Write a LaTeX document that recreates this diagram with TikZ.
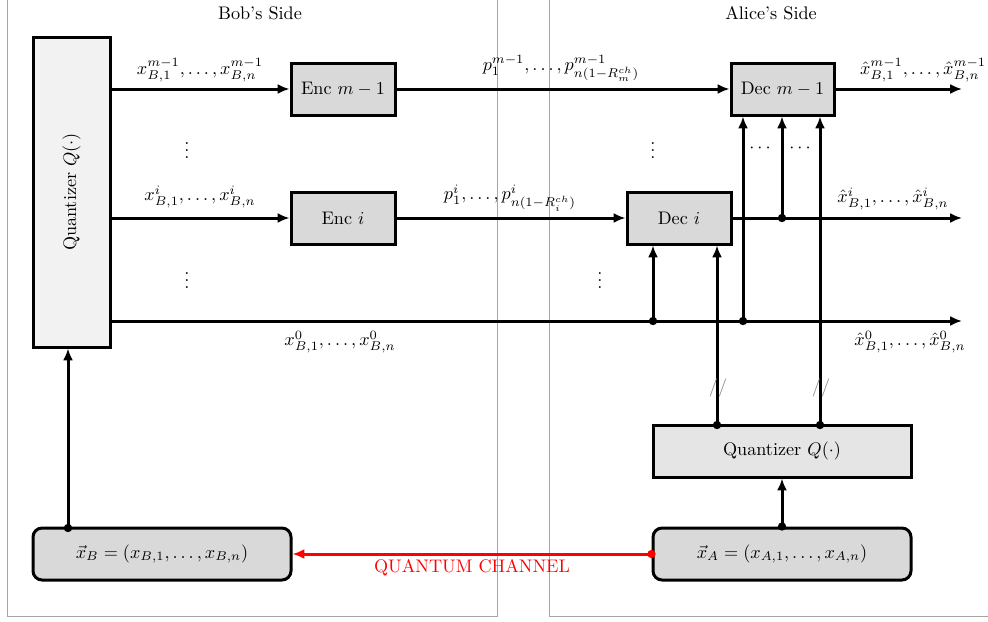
\documentclass[tikz,border=0pt]{standalone}
\usetikzlibrary{arrows.meta}
\begin{document}
\def\u{0.55pt}
\begin{tikzpicture}[x=\u,y=-\u,
  box/.style={draw,line width=1.65pt,fill=gray!30,minimum width=104*\u,minimum height=52*\u,inner sep=0pt},
  rbox/.style={box,rounded corners=5pt,minimum width=258*\u},
  arr/.style={line width=1.65pt,-{Latex[length=6.5pt,width=5.5pt]}},
  dot/.style={fill=black},
  side/.style={draw=gray!70,line width=0.5pt}]
\clip (0,0) rectangle (988,621);
% sides
\draw[side] (7,-20) rectangle (497,616);
\draw[side] (549,-20) rectangle (1010,616);
\node (bob) at (260,13) {Bob's Side};
\node (alice) at (771,13) {Alice's Side};
% boxes
\node[draw,line width=1.65pt,fill=gray!10,minimum width=77*\u,minimum height=310*\u,inner sep=0pt] (qb) at (71.5,192) {\rotatebox{90}{Quantizer $Q(\cdot)$}};
\node[box] (encm) at (343,89) {Enc $m-1$};
\node[box] (enci) at (343,218) {Enc $i$};
\node[box,minimum width=103*\u] (decm) at (782.5,89) {Dec $m-1$};
\node[box] (deci) at (679,218) {Dec $i$};
\node[box,fill=gray!20,minimum width=258*\u] (qa) at (782,451) {Quantizer $Q(\cdot)$};
\node[rbox] (xa) at (782,554) {$\vec{x}_A=(x_{A,1},\ldots,x_{A,n})$};
\node[rbox] (xb) at (162,554) {$\vec{x}_B=(x_{B,1},\ldots,x_{B,n})$};
% coordinates
\coordinate (y0) at (0,321);
\coordinate (o0) at (962,321);
\coordinate (om) at (962,89);
\coordinate (oi) at (962,218);
\coordinate (j1) at (653,321);
\coordinate (j2) at (743,321);
\coordinate (j3) at (782,218);
\coordinate (q1) at (717,425);
\coordinate (q2) at (820,425);
\coordinate (b1) at (68,528);
% connectors
\draw[arr] (qb.east |- encm.west) -- (encm.west);
\draw[arr] (qb.east |- enci.west) -- (enci.west);
\draw[arr] (qb.east |- y0) -- (o0);
\draw[arr] (encm.east) -- (decm.west);
\draw[arr] (enci.east) -- (deci.west);
\draw[arr] (decm.east) -- (om);
\draw[arr] (deci.east) -- (oi);
\draw[arr] (j1) -- (deci.south -| j1);
\draw[arr] (j2) -- (decm.south -| j2);
\draw[arr] (j3) -- (decm.south -| j3);
\draw[arr] (q1) -- (deci.south -| q1);
\draw[arr] (q2) -- (decm.south -| q2);
\draw[arr] (xa.north) -- (qa.south);
\draw[arr] (b1) -- (qb.south -| b1);
\draw[red,line width=1.65pt,-{Latex[length=6.5pt,width=5.5pt]}] (xa.west) -- (xb.east);
\foreach \p in {j1,j2,j3,q1,q2,b1,xa.north} \fill[dot] (\p) circle (2.3pt);
\fill[red] (xa.west) circle (2.3pt);
% labels
\node (lxm) at (200,70) {$x^{m-1}_{B,1},\ldots,x^{m-1}_{B,n}$};
\node (lxi) at (200,197) {$x^{i}_{B,1},\ldots,x^{i}_{B,n}$};
\node (lx0) at (340,342) {$x^{0}_{B,1},\ldots,x^{0}_{B,n}$};
\node (lpm) at (561,68) {$p^{m-1}_1,\ldots,p^{m-1}_{n(1-R^{ch}_m)}$};
\node (lpi) at (510,198) {$p^{i}_1,\ldots,p^{i}_{n(1-R^{ch}_i)}$};
\node (lhm) at (923,70) {$\hat{x}^{m-1}_{B,1},\ldots,\hat{x}^{m-1}_{B,n}$};
\node (lhi) at (893,199) {$\hat{x}^{i}_{B,1},\ldots,\hat{x}^{i}_{B,n}$};
\node (lh0) at (910,342) {$\hat{x}^{0}_{B,1},\ldots,\hat{x}^{0}_{B,n}$};
\node (v1) at (187,145) {$\vdots$};
\node (v2) at (187,275) {$\vdots$};
\node (v3) at (653,145) {$\vdots$};
\node (v4) at (600,275) {$\vdots$};
\node (c1) at (760,148) {$\cdots$};
\node (c2) at (800,148) {$\cdots$};
\node[gray] (s1) at (718,388) {//};
\node[gray] (s2) at (821,388) {//};
\node[red] (qc) at (472,568) {QUANTUM CHANNEL};
\end{tikzpicture}
\end{document}
